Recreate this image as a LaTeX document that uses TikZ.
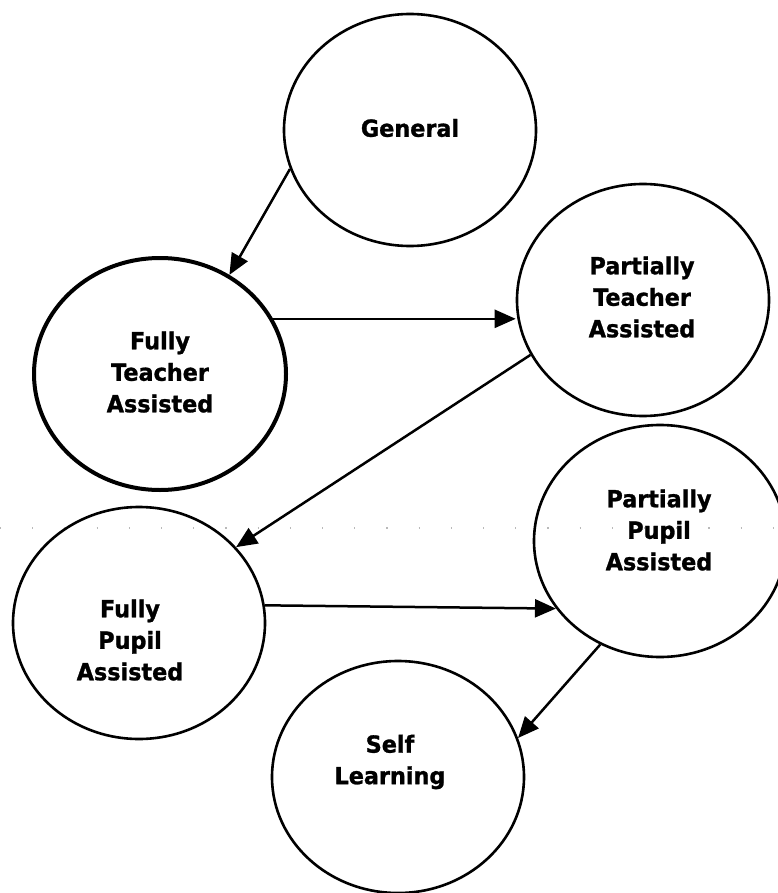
\documentclass[tikz,border=0pt]{standalone}
\usepackage{fontspec}
\newfontfamily\lblfont{DejaVu Sans}[FakeStretch=0.95,FakeBold=1.2]
\usetikzlibrary{shapes.geometric,arrows.meta}
\begin{document}
\begin{tikzpicture}[x=1pt,y=-1pt,
  stage/.style={draw=black, ellipse, line width=2.6pt, minimum width=252pt, minimum height=232pt, inner sep=0pt},
  lbl/.style={font=\lblfont\bfseries\fontsize{23.5}{31.5}\selectfont, align=center, inner sep=0pt},
  conn/.style={line width=2.5pt, -{Triangle[length=21pt,width=18pt]}},
  scanline/.style={gray!55, line width=1.2pt, dash pattern=on 1.2pt off 31pt}
  ]
\useasboundingbox (0,0) rectangle (777,893);
\coordinate (dl) at (0,528);
\coordinate (dr) at (777,528);
\draw[scanline] (dl) -- (dr);

\node[stage] (gen) at (410,130) {};
\node[stage, line width=4pt] (fta) at (160,374) {};
\node[stage] (pta) at (643,300) {};
\node[stage] (ppa) at (660,541) {};
\node[stage] (fpa) at (139,623) {};
\node[stage] (self) at (398,777) {};

\node[lbl] (genT) at (410,128) {General};
\node[lbl] (ftaT) at (160,372) {Fully\\Teacher\\Assisted};
\node[lbl] (ptaT) at (642,297) {Partially\\Teacher\\Assisted};
\node[lbl] (ppaT) at (659,530) {Partially\\Pupil\\Assisted};
\node[lbl] (fpaT) at (130,640) {Fully\\Pupil\\Assisted};
\node[lbl] (selfT) at (390,762) {Self\\Learning};

\draw[conn] (gen.198) -- (fta.55);
\draw[conn] (fta.26) -- (fta.26 -| pta.west);
\draw[conn] (pta.206) -- (fpa.38);
\draw[conn] (fpa.8) -- (ppa.213);
\draw[conn] (ppa.240) -- (self.18);
\end{tikzpicture}
\end{document}
